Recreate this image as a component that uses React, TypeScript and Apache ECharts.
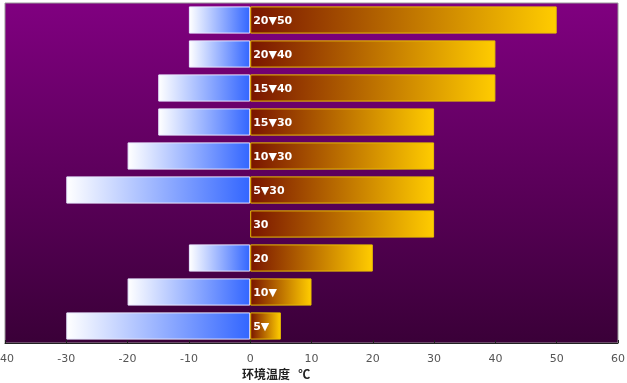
import React, { useEffect, useRef } from "react";
import * as echarts from "echarts";

// bottom to top
const categories = ["r10", "r9", "r8", "r7", "r6", "r5", "r4", "r3", "r2", "r1"];
const lowValues = [-30, -20, -10, 0, -30, -20, -15, -15, -10, -10];
const highValues = [5, 10, 20, 30, 30, 30, 30, 40, 40, 50];
const barLabels = ["5▼", "10▼", "20", "30", "5▼30", "10▼30", "15▼30", "15▼40", "20▼40", "20▼50"];
const axisName = "环境温度   ℃";

export default function App() {
  const ref = useRef<HTMLDivElement>(null);
  useEffect(() => {
    const chart = echarts.init(ref.current!, null, { renderer: "svg" });
    const lin = (c0: string, c1: string, horiz = true) =>
      new echarts.graphic.LinearGradient(0, 0, horiz ? 1 : 0, horiz ? 0 : 1, [
        { offset: 0, color: c0 },
        { offset: 1, color: c1 },
      ]);
    chart.setOption({
      animation: false,
      grid: {
        left: 5,
        right: 9,
        top: 3,
        bottom: 40,
        containLabel: false,
        outerBoundsMode: "none",
        show: true,
        borderColor: "#9a9a9a",
        borderWidth: 1,
        backgroundColor: lin("#800080", "#3a0038", false),
      },
      xAxis: {
        type: "value",
        min: -40,
        max: 60,
        interval: 10,
        splitLine: { show: false },
        axisLine: { show: true, lineStyle: { color: "#222", width: 1 } },
        axisTick: { show: true, inside: true, length: 3, lineStyle: { color: "#222" } },
        axisLabel: {
          color: "#555",
          fontSize: 11,
          fontFamily: "DejaVu Sans",
          margin: 10,
          formatter: (v: number) => String(v),
        },
      },
      yAxis: {
        type: "category",
        data: categories,
        show: false,
      },
      graphic: [
        {
          type: "text",
          left: 242,
          top: 367,
          style: {
            text: axisName,
            fill: "#222",
            font: "bold 12px 'Noto Sans CJK SC', sans-serif",
          },
        },
      ],
      series: [
        {
          type: "bar",
          stack: "t",
          barWidth: "80%",
          data: lowValues.map((v) => ({
            value: v,
            itemStyle: {
              color: lin("#ffffff", "#3366ff"),
              borderColor: "#e8e8ff",
              borderWidth: v === 0 ? 0 : 1,
            },
          })),
        },
        {
          type: "bar",
          stack: "t",
          barWidth: "80%",
          data: highValues.map((v, i) => ({
            value: v,
            label: {
              show: true,
              position: "insideLeft",
              distance: 3,
              formatter: barLabels[i],
              color: "#fff",
              fontWeight: "bold",
              fontSize: 11,
              fontFamily: "DejaVu Sans",
            },
            itemStyle: {
              color: lin("#7a1500", "#ffcc00"),
              borderColor: "#e8c000",
              borderWidth: 1,
            },
          })),
        },
      ],
    });
    return () => chart.dispose();
  }, []);
  return (
    <div
      ref={ref}
      style={{ position: "fixed", left: 0, top: 0, width: 627, height: 383 }}
    />
  );
}
